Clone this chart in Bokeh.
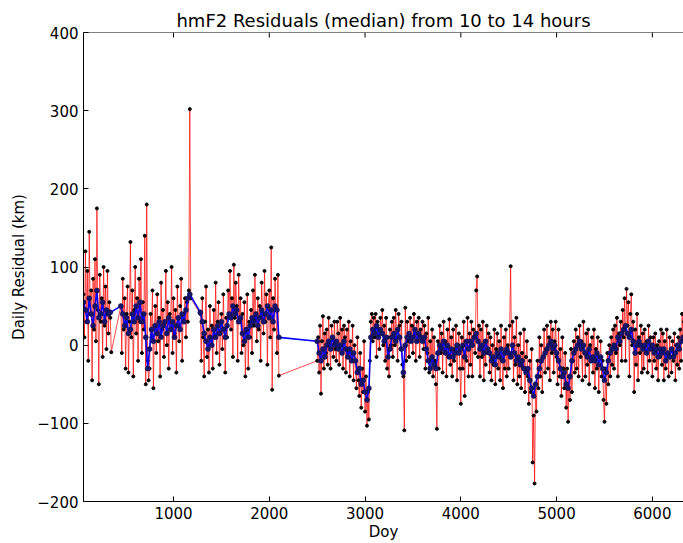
from bokeh.plotting import figure
from bokeh.models import Range1d, LinearAxis, FixedTicker, ColumnDataSource, Span
from bokeh.embed import file_html
from bokeh.resources import INLINE

# ---------------- data ----------------
title_text = "hmF2 Residuals (median) from 10 to 14 hours"
x_label = "Doy"
y_label = "Daily Residual (km)"
x_ticks = [1000, 2000, 3000, 4000, 5000, 6000]
y_ticks = [-200, -100, 0, 100, 200, 300, 400]
y_tick_labels = {-200: "\u2212200", -100: "\u2212100", 0: "0", 100: "100",
                 200: "200", 300: "300", 400: "400"}
x_min, x_max = 60, 6325
y_min, y_max = -200, 400

step_red = 10
step_blue = 20

# daily residuals, sampled every 10 days in each observed period
red_a_start = 60
red_a = [65, 10, 120, 30, 95, -20, 145, 40, 70, -45, 85, 20, 110, 5, 175, 45, -50, 90, 30, 60,
         -15, 100, 25, 75, -5, 95, 15, 55, 35, -9]
red_b_start = 450
red_b = [50, -10, 85, 20, 60, -30, 40, 75, -35, 30, 132,
         10, 70, -40, 45, 100, 15, 60, -20, 85, 30, 110, -10, 55, 20, 140,
         -50, 180, -20, -45,
         -30, 40, 10, 70, -55, 25, 50, -10, 65, 5, 35, -40, 80, 20, 45, -15,
         30, 95, 0, 55, -30, 40, 20, 100, -10, 60, 15, 45, -35, 75, 25, 5, 50, 85, -20, 40, 30, 60, 10,
         55, 30, 70, 302, 60]
red_c_start = 1280
red_c = [40, -20, 60, 10, -40, 30, 75, -15, 20, -35, 50, 0, 25,
         -30, 45, 10, 80, -10, 30, 55, -25, 15, 40, -5, 65, 20, -35, 35,
         10, 70, 40, 95, 20, 60, -15, 103, 35, 80, 50, -20, 90, 30, 60,
         -10, 40, 0, 55, -40, 20, 65, -30, 30, 10,
         45, -10, 70, 25, 90, 35, 5, 60, 20, 50,
         -20, 80, 40, 15, 95, 30, 65, -25, 50, 70, 10, 125, -57, 60, 20, 85, 45, -10, 90, -39]
red_d_start = 2500
red_d = [-20, 10, -35, 25, -62, 5, 37, -30, 15, -10,
         20, -25, 35, 0, -30, 25, 10, -15, 30, -5,
         -20, 30, 15, -25, 35, 0, 20, -30, 25, 10,
         -35, 20, -10, 30, -40, 5, -20, 25, -45, 0,
         -20, -55, 10, -45, -65, -10, -80, -30, -60, 5,
         -85, -40, -103, -60, -95, -20, 30, 40, 5, 35,
         10, 40, -15, 30, 20, -5, 35, 15, 45, 0,
         25, -20, 35, -30, 10, -40, 20, 0, 30, -15,
         35, 0, 45, 10, -20, 40, 25, -5, 30, -25,
         -40, -109, 48, -20, 30, 5, -15, 35, 10, 25,
         -10, 40, 15, -20, 30, 5, 35, -15, 20, 10,
         30, -5, 25, -30, 15, -10, 35, -35, 5, -20,
         20, -40, 10, -20, -50, -107, 5, -30, 25, -10,
         15, -35, 30, -10, 5, -40, 20, -15, 33, -25,
         10, -40, 20, -20, -5, 25, -45, 0, 15, -30,
         -75, 10, -30, 30, -65, 5, -20, 35, -40, 15,
         -25, 30, -40, 20, 10, -10, 70, 88, -15, 25,
         -40, 20, -15, 30, -45, 5, -25, 25, -10, 15,
         -35, 10, -45, 0, -25, 20, -50, -5, 15, -30,
         5, -45, 25, -20, -55, 10, -30, 20, -40, 0,
         -30, 25, 101, -15, 30, -45, 10, -25, 35, -50,
         0, -40, 15, -55, -10, -30, 20, -60, -15, 5,
         -40, -75, -20, -60, -5, -150, -90, -177, -50, -85,
         -20, -55, 10, -40, 0, -60, -15, 20, -35, -5,
         25, -30, 10, -45, 30, -10, 20, -35, 5, 30,
         -15, -50, 20, -40, -5, -65, 10, -30, -55, -10,
         -80, -30, -98, -40, -70, -5, -60, -20, 5, -35,
         20, -30, 10, -40, 25, -15, 5, -45, 30, -10,
         -40, 15, -25, 20, -50, 0, -20, 10, -35, 20,
         -55, -5, -30, 10, -60, -15, 5, -40, -20, -70,
         -98, -30, -75, -10, -50, 0, -40, 10, -25, 20,
         -30, 25, -10, 35, -40, 15, 0, 30, -20, 45,
         10, 60, -20, 72, 25, 55, -40, 40, 65, 0,
         30, -60, 20, -25, 40, -45, 10, -10, 25, -35,
         15, -30, 20, -10, 5, -35, 25, -20, 10, -5,
         -40, 10, -20, 15, -30, 0, -45, 5, -15, 20,
         -25, 15, -45, 5, -30, 20, -10, -40, 10, -15,
         -35, 5, -20, 15, -45, 0, -25, 10, -30, 20,
         -20, 40, 5, 30]

# running median, sampled every 20 days in each observed period
blue_a_start = 60
blue_a = [55, 45, 30, 60, 40, 25, 50, 70, 35, 40, 55, 30, 45, 40, 42]
blue_b_start = 450
blue_b = [50, 40, 25, 35, 15, 20, 40, 30, 50, 35, 55, 30, 40, 10, -30, -5, 20, 5, 25, 15,
          30, 10, 25, 30, 15, 35, 20, 30, 10, 25, 35, 20, 40, 30, 45, 60, 65]
blue_c_start = 1280
blue_c = [42, 30, 15, 5, -5, 10, 0, 20, 10, 25, 15, 30, 20, 10, 25, 40, 35, 50, 40, 45,
          30, 35, 15, 5, 20, 10, 25, 35, 30, 40, 25, 35, 45, 30, 40, 50, 35, 45, 30, 50,
          45, 10]
blue_d_start = 2500
blue_d = [5, -10, -20, -5, -15, 0, 5, -5, 10, 0, 5, -5, 0, -10, 5, -5, -15, -5, -20, -10,
          -20, -35, -30, -50, -45, -60, -70, -55, 10, 20, 15, 25, 10, 20, 15, 5, 10, -15, -5, 10,
          15, 5, 20, 10, -5, -35, 0, 10, 15, 5, 10, 20, 5, 15, 10, 5, 10, -5, -20, -30,
          -15, -25, -30, -10, 0, -5, 5, -10, 0, -15, -5, -15, -10, 0, -10, -5, 0, -15, 5, -5,
          5, 0, 10, 15, 5, -5, 0, -10, 5, -5, -10, -20, -15, -25, -10, -15, -5, -20, -10, -5,
          -10, -15, 0, -10, -20, -15, -25, -20, -30, -35, -30, -45, -55, -65, -50, -40, -30, -20, -15, -10,
          -5, 0, 5, -5, 0, -10, -20, -30, -40, -35, -50, -55, -40, -20, -10, -5, 0, 5, -5, 0,
          -10, -15, -5, -20, -15, -20, -10, -25, -15, -30, -45, -35, -20, -10, -5, 0, -5, 10, 5, 15,
          20, 25, 15, 10, 20, 5, -10, 0, 5, 0, -5, 0, -10, 5, -5, 0, -10, -5, -15, -5,
          -10, -5, -20, -10, -15, -5, -15, -10, 0, -5, 5, 10]

# ---------------- assemble ----------------
def days_for(start, vals, step):
    return [start + i * step for i in range(len(vals))]

red_x, red_y = [], []
for s, v in [(red_a_start, red_a), (red_b_start, red_b), (red_c_start, red_c), (red_d_start, red_d)]:
    red_x += days_for(s, v, step_red)
    red_y += v

blue_x, blue_y = [], []
for s, v in [(blue_a_start, blue_a), (blue_b_start, blue_b), (blue_c_start, blue_c), (blue_d_start, blue_d)]:
    blue_x += days_for(s, v, step_blue)
    blue_y += v

seg = ColumnDataSource(dict(x0=red_x[:-1], y0=red_y[:-1], x1=red_x[1:], y1=red_y[1:]))
pts = ColumnDataSource(dict(x=red_x, y=red_y))
bsrc = ColumnDataSource(dict(x=blue_x, y=blue_y))

FONT = "DejaVu Sans"
FRAME_H = 471  # plot-area height in pixels (543 - 32 - 40)
tick_len_px = 5

p = figure(width=683, height=543, output_backend="svg", toolbar_location=None,
           x_range=Range1d(x_min, x_max), y_range=Range1d(y_min, y_max),
           min_border_left=83, min_border_right=0, min_border_top=32, min_border_bottom=40,
           x_axis_location=None, y_axis_location=None)
p.outline_line_color = None
p.background_fill_color = "white"
p.border_fill_color = "white"
p.xgrid.visible = False
p.ygrid.visible = False

p.title.text = title_text
p.title.align = "center"
p.title.text_font = FONT
p.title.text_font_size = "18px"
p.title.text_font_style = "normal"
p.title.text_color = "black"
p.title.standoff = 4

def style_axis(ax):
    ax.axis_line_color = "black"
    ax.axis_line_width = 1
    ax.major_tick_in = tick_len_px
    ax.major_tick_out = 0
    ax.minor_tick_line_color = None
    ax.major_tick_line_color = "black"
    ax.major_label_text_font = FONT
    ax.major_label_text_color = "black"
    ax.major_label_text_font_size = "15px"
    ax.axis_label_text_font = FONT
    ax.axis_label_text_font_style = "normal"
    ax.axis_label_text_font_size = "15px"
    ax.axis_label_text_color = "black"

xb = LinearAxis(ticker=FixedTicker(ticks=x_ticks), axis_label=x_label)
style_axis(xb)
xb.major_label_standoff = 5
xb.axis_label_standoff = 1
p.add_layout(xb, "below")

yl = LinearAxis(ticker=FixedTicker(ticks=y_ticks), axis_label=y_label,
                major_label_overrides=y_tick_labels)
style_axis(yl)
yl.major_label_standoff = 5
yl.axis_label_standoff = 6
p.add_layout(yl, "left")

# top frame border with inward ticks (matplotlib style)
p.add_layout(Span(location=y_max, dimension="width", line_color="black", line_width=1))
dy = (y_max - y_min) * tick_len_px / FRAME_H
p.segment(x0=x_ticks, y0=[y_max] * len(x_ticks), x1=x_ticks, y1=[y_max - dy] * len(x_ticks),
          line_color="black", line_width=1)

p.segment("x0", "y0", "x1", "y1", source=seg, line_color="red", line_alpha=0.7, line_width=1)
p.scatter("x", "y", source=pts, size=3, fill_color="black", line_color="black")
p.line("x", "y", source=bsrc, line_color="#0000ff", line_width=1.6)
p.scatter("x", "y", source=bsrc, size=5, fill_color="#15156e", line_color="#0a0a40", line_width=0.5)

open("out.html", "w").write(file_html(p, INLINE))
